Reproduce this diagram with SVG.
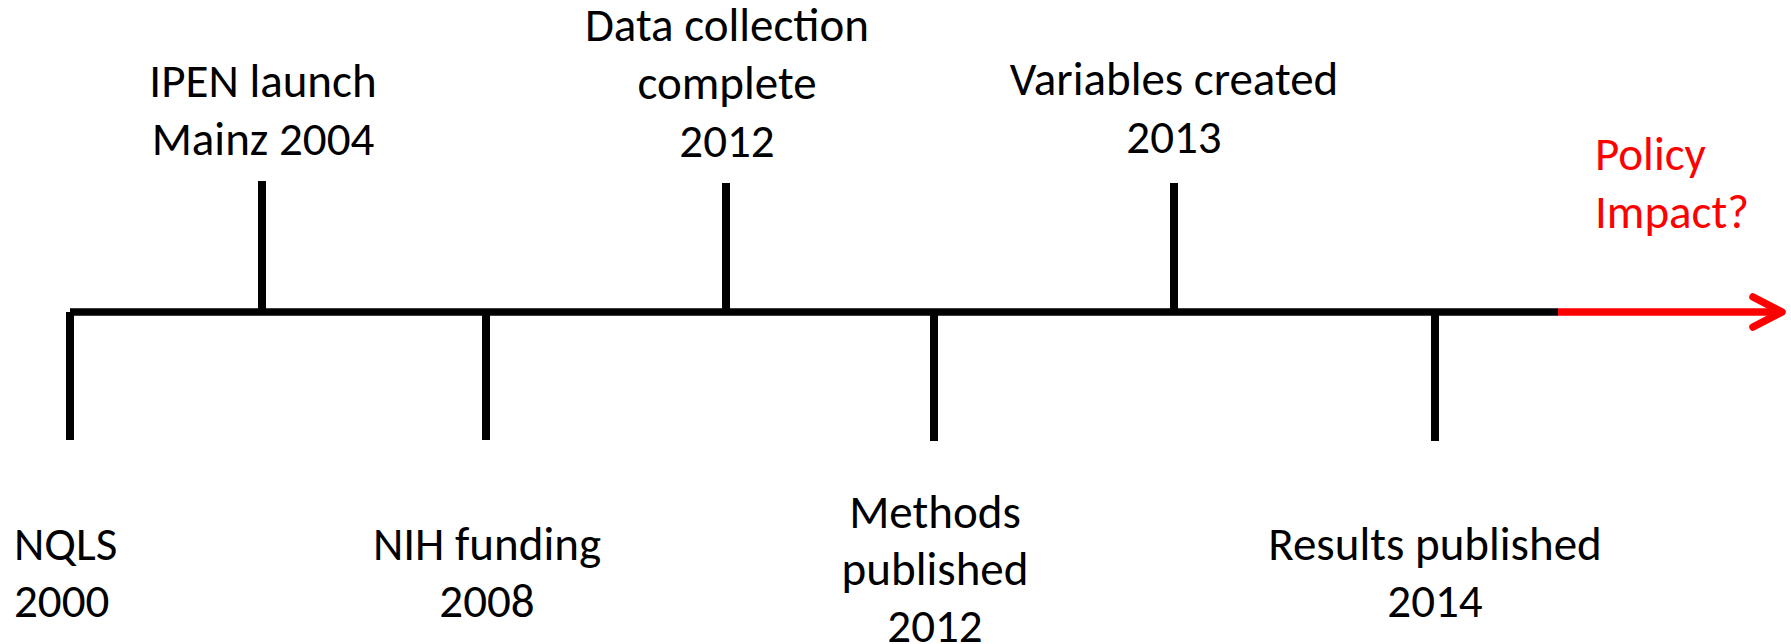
<svg xmlns="http://www.w3.org/2000/svg" width="1791" height="644" viewBox="0 0 1791 644">
  <defs>
    <style>
      .lbl { font-family: Carlito, Lato, "Open Sans", sans-serif; font-size: 47px; fill: #000; }
      .mid { text-anchor: middle; }
      .red { fill: #ff0000; }
      .tick { stroke: #000; stroke-width: 8; fill: none; }
      .axis { stroke: #000; stroke-width: 7.5; fill: none; }
      .arrow { stroke: #ff0000; stroke-width: 7.5; fill: none; stroke-linecap: round; stroke-linejoin: round; }
    </style>
  </defs>
  <rect width="1791" height="644" fill="#fff"/>

  <g id="connectors">
    <line class="axis" x1="70" y1="312" x2="1558" y2="312"/>
    <line class="arrow" x1="1558" y1="312" x2="1782" y2="312" style="stroke-linecap:butt"/>
    <polyline class="arrow" points="1753,297 1782,312 1753,327"/>
  </g>

  <g id="nqls">
    <line class="tick" x1="70" y1="312" x2="70" y2="440"/>
    <text class="lbl" x="14" y="560">NQLS</text>
    <text class="lbl" x="14" y="617">2000</text>
  </g>
  <g id="ipen">
    <line class="tick" x1="262" y1="181" x2="262" y2="312"/>
    <text class="lbl mid" x="263" y="97">IPEN launch</text>
    <text class="lbl mid" x="263" y="155">Mainz 2004</text>
  </g>
  <g id="nih">
    <line class="tick" x1="486" y1="312" x2="486" y2="440"/>
    <text class="lbl mid" x="487" y="560">NIH funding</text>
    <text class="lbl mid" x="487" y="617">2008</text>
  </g>
  <g id="datacollection">
    <line class="tick" x1="726" y1="183" x2="726" y2="312"/>
    <text class="lbl mid" x="727" y="41">Data collection</text>
    <text class="lbl mid" x="727" y="99">complete</text>
    <text class="lbl mid" x="727" y="157">2012</text>
  </g>
  <g id="methods">
    <line class="tick" x1="934" y1="312" x2="934" y2="441"/>
    <text class="lbl mid" x="935" y="528">Methods</text>
    <text class="lbl mid" x="935" y="585">published</text>
    <text class="lbl mid" x="935" y="642">2012</text>
  </g>
  <g id="variables">
    <line class="tick" x1="1174" y1="183" x2="1174" y2="312"/>
    <text class="lbl mid" x="1174" y="95">Variables created</text>
    <text class="lbl mid" x="1174" y="153">2013</text>
  </g>
  <g id="results">
    <line class="tick" x1="1435" y1="312" x2="1435" y2="441"/>
    <text class="lbl mid" x="1435" y="560">Results published</text>
    <text class="lbl mid" x="1435" y="617">2014</text>
  </g>
  <g id="policy">
    <text class="lbl red" x="1595" y="170">Policy</text>
    <text class="lbl red" x="1595" y="228">Impact?</text>
  </g>
</svg>
